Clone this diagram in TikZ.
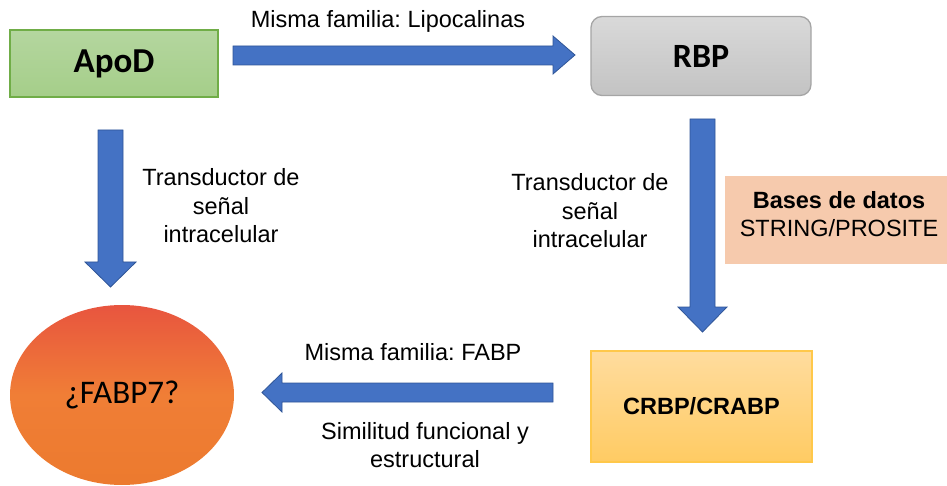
\documentclass[tikz,border=0pt]{standalone}
\usepackage{fontspec}
\setmainfont{Liberation Sans}
\newfontfamily\calibri{Carlito}
\usetikzlibrary{shapes.geometric}
\frenchspacing
\definecolor{arrowblue}{HTML}{4472C4}
\definecolor{arrowedge}{HTML}{2F5597}
\definecolor{greenA}{HTML}{B4D69F}
\definecolor{greenB}{HTML}{A5CE89}
\definecolor{greenEdge}{HTML}{70AD47}
\definecolor{grayA}{HTML}{D9D9D9}
\definecolor{grayB}{HTML}{C3C3C3}
\definecolor{grayEdge}{HTML}{A5A5A5}
\definecolor{yelA}{HTML}{FFDC9E}
\definecolor{yelB}{HTML}{FFCB63}
\definecolor{yelEdge}{HTML}{FFC84A}
\definecolor{peach}{HTML}{F6CAAD}
\definecolor{orA}{HTML}{E8553F}
\definecolor{orM}{HTML}{F07E36}
\definecolor{orB}{HTML}{EC7A2E}
\begin{document}
\begin{tikzpicture}[x=1pt,y=-1pt,
  lbl/.style={font=\fontsize{23.5}{28.5}\selectfont, align=center, inner sep=0pt, text=black},
  blockarrow/.style={fill=arrowblue, draw=arrowedge, line width=0.8pt, line join=miter},
  boxnode/.style={rectangle, inner sep=0pt, line width=1.3pt}]
\useasboundingbox (0,0) rectangle (947,486);

% boxes
\node[boxnode, minimum width=208pt, minimum height=67pt,
  draw=greenEdge, top color=greenA, bottom color=greenB,
  font=\calibri\bfseries\fontsize{35}{40}\selectfont] (apod) at (114,63.5) {ApoD};
\node[boxnode, minimum width=220pt, minimum height=79pt, rounded corners=11pt,
  draw=grayEdge, top color=grayA, bottom color=grayB,
  font=\calibri\bfseries\fontsize{34}{40}\selectfont] (rbp) at (701,56) {RBP};
\node[boxnode, minimum width=221pt, minimum height=111pt,
  draw=yelEdge, top color=yelA, bottom color=yelB,
  font=\bfseries\fontsize{23.5}{28.5}\selectfont] (crbp) at (701.5,406.5) {CRBP/CRABP};
\node[boxnode, minimum width=222pt, minimum height=88pt, fill=peach] (bases) at (836,220) {};
\node[lbl] (basestxt) at (839,214) {\textbf{Bases de datos}\\STRING/PROSITE};
\node[ellipse, inner sep=0pt, minimum width=224pt, minimum height=180pt,
  top color=orA, bottom color=orB, middle color=orM,
  font=\calibri\fontsize{33}{40}\selectfont] (fabp) at (122,395) {¿FABP7?};

% block arrows
\draw[blockarrow] (233,46) -- (553,46) -- (553,36) -- (575,55) -- (553,74) -- (553,65) -- (233,65) -- cycle;
\draw[blockarrow] (98,130) -- (123,130) -- (123,262) -- (136,262) -- (110.5,287) -- (85,262) -- (98,262) -- cycle;
\draw[blockarrow] (690,119) -- (715,119) -- (715,307) -- (727,307) -- (702.5,332) -- (678,307) -- (690,307) -- cycle;
\draw[blockarrow] (553,383) -- (553,402) -- (282,402) -- (282,412) -- (262,392.5) -- (282,373) -- (282,383) -- cycle;

% labels
\node[lbl] (l1) at (388,21) {Misma familia: Lipocalinas};
\node[lbl] (l2) at (221,206) {Transductor de\\señal\\intracelular};
\node[lbl] (l3) at (590,211) {Transductor de\\señal\\intracelular};
\node[lbl] (l4) at (413,352) {Misma familia: FABP};
\node[lbl] (l5) at (425,445) {Similitud funcional y\\estructural};
\end{tikzpicture}
\end{document}
